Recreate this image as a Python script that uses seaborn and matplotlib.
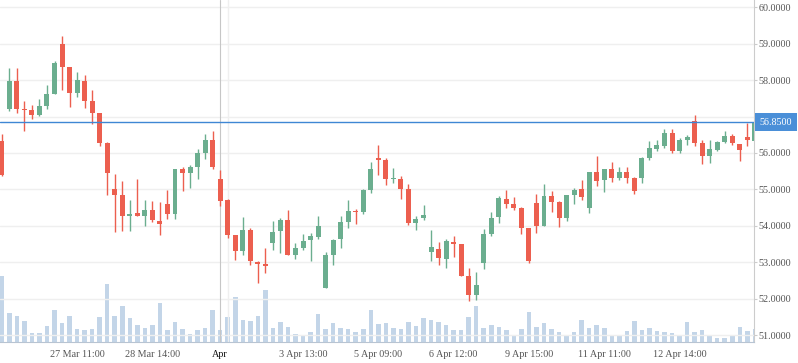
import matplotlib
matplotlib.use("Agg")
import matplotlib.pyplot as plt
import seaborn as sns
import numpy as np

# candles, one per bar (hourly)
opens = [56.32, 57.20, 57.97, 57.20, 57.17, 57.03, 57.28, 57.62, 58.98, 58.35,
         57.65, 57.97, 57.44, 57.09, 56.26, 55.00, 54.84, 54.28, 54.34, 54.27,
         54.43, 54.12, 54.59, 54.32, 55.55, 55.45, 55.61, 55.99, 56.35, 55.28,
         54.70, 53.74, 53.31, 53.88, 53.00, 52.94, 53.53, 53.86, 54.15, 53.20,
         53.39, 53.61, 53.69, 52.29, 53.20, 53.64, 54.11, 54.42, 54.38, 54.97,
         55.85, 55.80, 55.29, 55.29, 55.00, 54.08, 54.21, 53.28, 53.37, 53.09,
         53.55, 53.49, 52.61, 52.10, 52.99, 53.78, 54.24, 54.73, 54.59, 54.48,
         53.93, 54.62, 54.00, 54.81, 54.65, 54.21, 54.84, 55.00, 54.49, 55.47,
         55.26, 55.55, 55.31, 55.47, 55.30, 55.31, 55.86, 56.11, 56.19, 56.54,
         56.05, 56.36, 56.87, 56.26, 55.92, 56.08, 56.29, 56.46, 56.25, 56.43,
         56.34]
closes = [55.39, 57.97, 57.20, 57.17, 57.04, 57.28, 57.61, 58.46, 58.36, 57.65,
          57.99, 57.44, 57.10, 56.27, 55.45, 54.85, 54.27, 54.32, 54.27, 54.43,
          54.15, 54.05, 54.32, 55.55, 55.45, 55.61, 55.99, 56.35, 55.61, 54.68,
          53.75, 53.31, 53.88, 53.03, 52.95, 52.90, 53.82, 54.15, 53.20, 53.38,
          53.57, 53.71, 53.99, 53.19, 53.60, 54.10, 54.40, 54.38, 54.97, 55.55,
          55.81, 55.29, 55.31, 55.01, 54.08, 54.20, 54.29, 53.41, 53.12, 53.57,
          53.51, 52.62, 52.10, 52.37, 53.77, 54.22, 54.75, 54.60, 54.49, 53.94,
          53.03, 54.00, 54.81, 54.65, 54.21, 54.84, 54.97, 54.79, 55.47, 55.23,
          55.55, 55.31, 55.47, 55.31, 54.96, 55.85, 56.13, 56.21, 56.54, 56.05,
          56.35, 56.43, 56.27, 55.92, 56.10, 56.29, 56.46, 56.27, 56.07, 56.35,
          56.85]
highs = [56.51, 58.33, 58.33, 57.44, 57.31, 57.47, 57.86, 58.52, 59.20, 58.36,
         58.21, 58.13, 57.72, 57.09, 56.29, 55.41, 55.22, 54.70, 55.28, 54.70,
         54.67, 54.64, 54.97, 55.55, 55.61, 55.66, 56.10, 56.51, 56.59, 55.52,
         54.73, 53.74, 54.23, 53.95, 53.02, 53.38, 54.12, 54.21, 54.43, 53.52,
         53.77, 53.79, 54.26, 53.27, 53.63, 54.26, 54.70, 54.45, 55.02, 55.74,
         56.21, 55.85, 55.58, 55.36, 55.14, 54.26, 54.56, 53.88, 53.55, 53.63,
         53.71, 53.49, 52.83, 52.72, 53.90, 54.37, 54.81, 54.97, 54.78, 54.51,
         53.93, 54.86, 55.14, 54.95, 54.67, 54.84, 55.03, 55.25, 55.47, 55.91,
         55.55, 55.74, 55.61, 55.61, 55.33, 55.88, 56.32, 56.35, 56.65, 56.65,
         56.40, 56.48, 57.03, 56.35, 56.35, 56.32, 56.59, 56.51, 56.25, 56.82,
         56.90]
lows = [55.36, 57.15, 57.10, 56.60, 56.92, 57.01, 57.21, 57.62, 57.72, 57.25,
        57.54, 57.23, 56.79, 56.19, 54.85, 53.83, 53.85, 53.86, 54.27, 54.00,
        54.11, 53.75, 54.19, 54.19, 54.96, 55.04, 55.29, 55.83, 55.56, 54.54,
        53.67, 53.06, 53.20, 52.93, 52.43, 52.71, 53.33, 53.25, 53.20, 53.09,
        53.34, 53.03, 53.64, 52.29, 52.93, 53.39, 53.94, 54.05, 54.32, 54.89,
        55.40, 55.12, 55.18, 54.74, 54.02, 53.89, 54.16, 53.03, 52.93, 52.84,
        53.14, 52.62, 51.94, 51.97, 52.82, 53.72, 54.08, 54.49, 54.43, 53.78,
        52.98, 53.80, 54.00, 54.37, 53.97, 54.13, 54.59, 54.71, 54.35, 55.09,
        54.93, 55.20, 55.26, 55.18, 54.87, 55.18, 55.81, 56.05, 56.14, 56.00,
        56.00, 56.22, 56.19, 55.70, 55.72, 56.05, 56.27, 56.22, 55.77, 56.19,
        56.30]
volumes = [198, 87, 78, 63, 27, 27, 48, 96, 57, 78, 39, 36, 39, 75, 174, 78, 108,
           72, 51, 42, 51, 117, 36, 60, 39, 24, 36, 42, 96, 36, 75, 135, 66,
           63, 78, 156, 42, 60, 45, 24, 21, 30, 84, 39, 57, 42, 39, 30, 39,
           96, 54, 57, 42, 39, 60, 48, 72, 66, 60, 51, 36, 36, 75, 108, 42,
           51, 45, 36, 21, 39, 90, 45, 57, 39, 30, 21, 30, 66, 42, 51, 42,
           21, 18, 33, 63, 36, 42, 33, 30, 27, 18, 60, 30, 36, 18, 12, 12, 18,
           45, 33, 40]

tick_pos = [10, 20, 29, 40, 50, 60, 70, 80, 90]
tick_labels = ["27 Mar 11:00", "28 Mar 14:00", "Apr", "3 Apr 13:00", "5 Apr 09:00",
               "6 Apr 12:00", "9 Apr 15:00", "11 Apr 11:00", "12 Apr 14:00"]
grid_pos = [10, 20, 30, 40, 50, 60, 70, 80, 90]
price_ticks = [51, 52, 53, 54, 55, 56, 57, 58, 59, 60]
last_price = 56.85
cross_idx = 29

GREEN = "#6bae8f"
RED = "#ec5f4f"

sns.set_theme(style="white")
plt.rcParams['font.family'] = ['Liberation Serif', 'DejaVu Serif']

idx = np.arange(len(opens))
o = np.array(opens)
c = np.array(closes)
colors = [GREEN if cl >= op else RED for op, cl in zip(o, c)]

fig = plt.figure(figsize=(7.98, 3.63), dpi=100)
ax = fig.add_axes([0, 0.0579, 0.9449, 0.9421])
axv = ax.twinx()

# volume underneath
sns.barplot(x=idx, y=volumes, native_scale=True, ax=axv, color="#c3d5e8",
            width=0.6, saturation=1, errorbar=None)
# seaborn shrinks native-scale bars, widen them back to ~0.6 of a slot
for p in axv.patches:
    mid = p.get_x() + p.get_width() / 2
    p.set_width(0.6)
    p.set_x(mid - 0.3)
    p.set_linewidth(0)
axv.set_ylim(0, 1026)
axv.set_yticks([])
axv.set_ylabel("")
for s in axv.spines.values():
    s.set_visible(False)

ax.set_zorder(axv.get_zorder() + 1)
ax.patch.set_visible(False)

# candles
ax.vlines(idx, lows, highs, colors=colors, lw=1.0, zorder=3)
body = np.maximum(np.abs(c - o), 0.035)
ax.bar(idx, body, bottom=np.minimum(o, c), width=0.66, color=colors, zorder=4, linewidth=0)

ax.axvline(cross_idx, color="#c6c6c6", lw=0.8, zorder=2)
ax.axhline(last_price, color="#3f87d4", lw=1.0, zorder=5)

ax.set_xlim(-0.239, 99.89)
ax.set_ylim(50.81, 60.2)

ax.set_xticks(grid_pos, minor=True)
ax.set_xticks(tick_pos)
ax.set_xticklabels(tick_labels)
ax.set_yticks(price_ticks)
ax.set_yticklabels(["" if p == 57 else f"{p:.4f}" for p in price_ticks])
ax.yaxis.tick_right()
ax.grid(True, axis="y", color="#efefef", lw=1.0, zorder=0)
ax.grid(True, axis="x", which="minor", color="#efefef", lw=1.0, zorder=0)
ax.grid(False, axis="x", which="major")

ax.tick_params(axis="x", which="major", length=3, width=0.8, color="#b8c4d2",
               labelsize=7.3, labelcolor="#555555", pad=2.5)
ax.tick_params(axis="x", which="minor", length=0)
ax.tick_params(axis="y", length=2, width=0.8, color="#cccccc",
               labelsize=7.3, labelcolor="#555555", pad=1)
for lab in ax.get_xticklabels():
    if lab.get_text() == "Apr":
        lab.set_color("#111111")

for side in ["top", "left"]:
    ax.spines[side].set_visible(False)
ax.spines["right"].set_color("#cccccc")
ax.spines["right"].set_linewidth(0.8)
ax.spines["bottom"].set_color("#b8c4d2")
ax.spines["bottom"].set_linewidth(0.8)

ax.annotate(f"{last_price:.4f}", xy=(1.0, last_price), xycoords=("axes fraction", "data"),
            xytext=(4.2, 0), textcoords="offset points", ha="left", va="center",
            fontsize=7.3, color="white", annotation_clip=False, zorder=10,
            bbox=dict(boxstyle="square,pad=0.45", fc="#4a8fd8", ec="none"))

fig.savefig("out.png", dpi=100, facecolor="white")
